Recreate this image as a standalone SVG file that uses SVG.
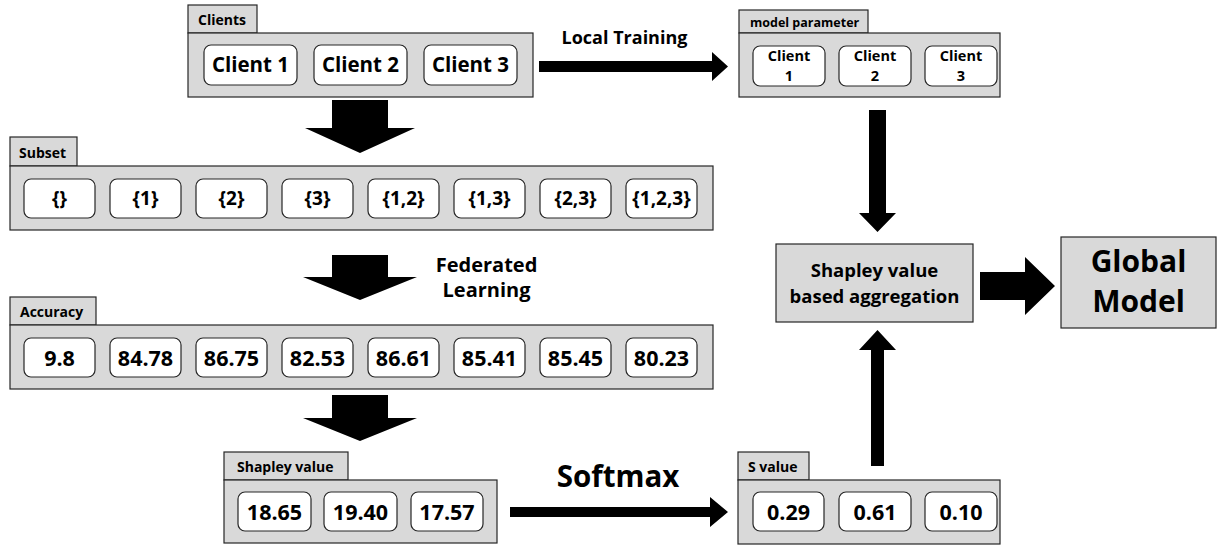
<svg xmlns="http://www.w3.org/2000/svg" width="1218" height="546" viewBox="0 0 1218 546">
<style>
.panel{fill:#d9d9d9;stroke:#262626;stroke-width:1.2}
.cell{fill:#fff;stroke:#262626;stroke-width:1.2}
.t{font-family:"Open Sans","Noto Sans",sans-serif;font-weight:bold;fill:#000;text-anchor:middle}
.tab{font-family:"Open Sans","Noto Sans",sans-serif;font-weight:bold;fill:#000;font-size:14px}
.v{font-size:21.5px}
.s{font-size:19px}
.m{font-size:14.5px}
.arr{fill:#000}
</style>
<rect width="1218" height="546" fill="#fff"/>

<g id="clients">
<rect class="panel" x="188" y="5" width="69" height="28"/>
<text class="tab" x="198" y="25">Clients</text>
<rect class="panel" x="188" y="33" width="345" height="64"/>
<rect class="cell" x="204" y="45" width="93" height="40" rx="7"/>
<rect class="cell" x="314" y="45" width="93" height="40" rx="7"/>
<rect class="cell" x="424" y="45" width="93" height="40" rx="7"/>
<text class="t" style="font-size:20.5px" x="250.5" y="72">Client 1</text>
<text class="t" style="font-size:20.5px" x="360.5" y="72">Client 2</text>
<text class="t" style="font-size:20.5px" x="470.5" y="72">Client 3</text>
</g>

<g id="model-parameter">
<rect class="panel" x="739" y="10" width="129" height="23"/>
<text class="tab" x="750" y="27" style="font-size:12.5px">model parameter</text>
<rect class="panel" x="739" y="33" width="261" height="64"/>
<rect class="cell" x="753" y="46" width="72" height="40" rx="7"/>
<rect class="cell" x="839" y="46" width="72" height="40" rx="7"/>
<rect class="cell" x="925" y="46" width="72" height="40" rx="7"/>
<text class="t m" x="789" y="61">Client</text>
<text class="t m" x="789" y="81">1</text>
<text class="t m" x="875" y="61">Client</text>
<text class="t m" x="875" y="81">2</text>
<text class="t m" x="961" y="61">Client</text>
<text class="t m" x="961" y="81">3</text>
</g>

<g id="subset">
<rect class="panel" x="10" y="137" width="67" height="29"/>
<text class="tab" x="19" y="158">Subset</text>
<rect class="panel" x="10" y="166" width="703" height="64"/>
<rect class="cell" x="24" y="179" width="71" height="39" rx="7"/>
<rect class="cell" x="110" y="179" width="71" height="39" rx="7"/>
<rect class="cell" x="196" y="179" width="71" height="39" rx="7"/>
<rect class="cell" x="282" y="179" width="71" height="39" rx="7"/>
<rect class="cell" x="368" y="179" width="71" height="39" rx="7"/>
<rect class="cell" x="454" y="179" width="71" height="39" rx="7"/>
<rect class="cell" x="540" y="179" width="71" height="39" rx="7"/>
<rect class="cell" x="626" y="179" width="71" height="39" rx="7"/>
<text class="t s" x="59.5" y="205">{}</text>
<text class="t s" x="145.5" y="205">{1}</text>
<text class="t s" x="231.5" y="205">{2}</text>
<text class="t s" x="317.5" y="205">{3}</text>
<text class="t s" x="403.5" y="205">{1,2}</text>
<text class="t s" x="489.5" y="205">{1,3}</text>
<text class="t s" x="575.5" y="205">{2,3}</text>
<text class="t s" x="661.5" y="205">{1,2,3}</text>
</g>

<g id="accuracy">
<rect class="panel" x="10" y="297" width="86" height="28"/>
<text class="tab" x="20" y="317">Accuracy</text>
<rect class="panel" x="10" y="325" width="703" height="64"/>
<rect class="cell" x="24" y="338" width="71" height="39" rx="7"/>
<rect class="cell" x="110" y="338" width="71" height="39" rx="7"/>
<rect class="cell" x="196" y="338" width="71" height="39" rx="7"/>
<rect class="cell" x="282" y="338" width="71" height="39" rx="7"/>
<rect class="cell" x="368" y="338" width="71" height="39" rx="7"/>
<rect class="cell" x="454" y="338" width="71" height="39" rx="7"/>
<rect class="cell" x="540" y="338" width="71" height="39" rx="7"/>
<rect class="cell" x="626" y="338" width="71" height="39" rx="7"/>
<text class="t v" x="59.5" y="365.5">9.8</text>
<text class="t v" x="145.5" y="365.5">84.78</text>
<text class="t v" x="231.5" y="365.5">86.75</text>
<text class="t v" x="317.5" y="365.5">82.53</text>
<text class="t v" x="403.5" y="365.5">86.61</text>
<text class="t v" x="489.5" y="365.5">85.41</text>
<text class="t v" x="575.5" y="365.5">85.45</text>
<text class="t v" x="661.5" y="365.5">80.23</text>
</g>

<g id="shapley-value">
<rect class="panel" x="224" y="452" width="124" height="28"/>
<text class="tab" x="237" y="472">Shapley value</text>
<rect class="panel" x="224" y="480" width="273" height="63"/>
<rect class="cell" x="238" y="492" width="73" height="39" rx="7"/>
<rect class="cell" x="324" y="492" width="73" height="39" rx="7"/>
<rect class="cell" x="411" y="492" width="72" height="39" rx="7"/>
<text class="t v" x="274.5" y="519.5">18.65</text>
<text class="t v" x="360.5" y="519.5">19.40</text>
<text class="t v" x="447" y="519.5">17.57</text>
</g>

<g id="s-value">
<rect class="panel" x="738" y="452" width="71" height="28"/>
<text class="tab" x="748" y="472">S value</text>
<rect class="panel" x="738" y="480" width="262" height="64"/>
<rect class="cell" x="753" y="492" width="71" height="39" rx="7"/>
<rect class="cell" x="839" y="492" width="72" height="39" rx="7"/>
<rect class="cell" x="925" y="492" width="72" height="39" rx="7"/>
<text class="t v" x="788.5" y="519.5">0.29</text>
<text class="t v" x="875" y="519.5">0.61</text>
<text class="t v" x="961" y="519.5">0.10</text>
</g>

<g id="aggregation">
<rect class="panel" x="776" y="244" width="197" height="78"/>
<text class="t" style="font-size:18.5px" x="874.5" y="277">Shapley value</text>
<text class="t" style="font-size:18.5px" x="874.5" y="303">based aggregation</text>
</g>

<g id="global-model">
<rect class="panel" x="1061" y="237" width="155" height="91"/>
<text class="t" style="font-size:30px" x="1138.5" y="272">Global</text>
<text class="t" style="font-size:30px" x="1138.5" y="312">Model</text>
</g>

<g id="connectors">
<polygon class="arr" points="539,61 712,61 712,52 728,66.5 712,81 712,72 539,72"/>
<text class="t" style="font-size:18px" x="624.5" y="44">Local Training</text>
<polygon class="arr" points="332,100 388,100 388,128 415,128 360,153 305,128 332,128"/>
<polygon class="arr" points="332,255 388,255 388,277 417,277 360,300 303,277 332,277"/>
<text class="t" style="font-size:20px" x="486.5" y="272">Federated</text>
<text class="t" style="font-size:20px" x="486.5" y="297">Learning</text>
<polygon class="arr" points="332,395 388,395 388,418 417,418 360,441 303,418 332,418"/>
<polygon class="arr" points="510,507 710,507 710,497 728,512 710,527 710,517 510,517"/>
<text class="t" style="font-size:29.5px" x="618" y="487">Softmax</text>
<polygon class="arr" points="869,110 886,110 886,213 896,213 877.5,232 859,213 869,213"/>
<polygon class="arr" points="871,466 884,466 884,350 896,350 877.5,330 859,350 871,350"/>
<polygon class="arr" points="980,272 1025,272 1025,257 1055,286 1025,315 1025,300 980,300"/>
</g>
</svg>
